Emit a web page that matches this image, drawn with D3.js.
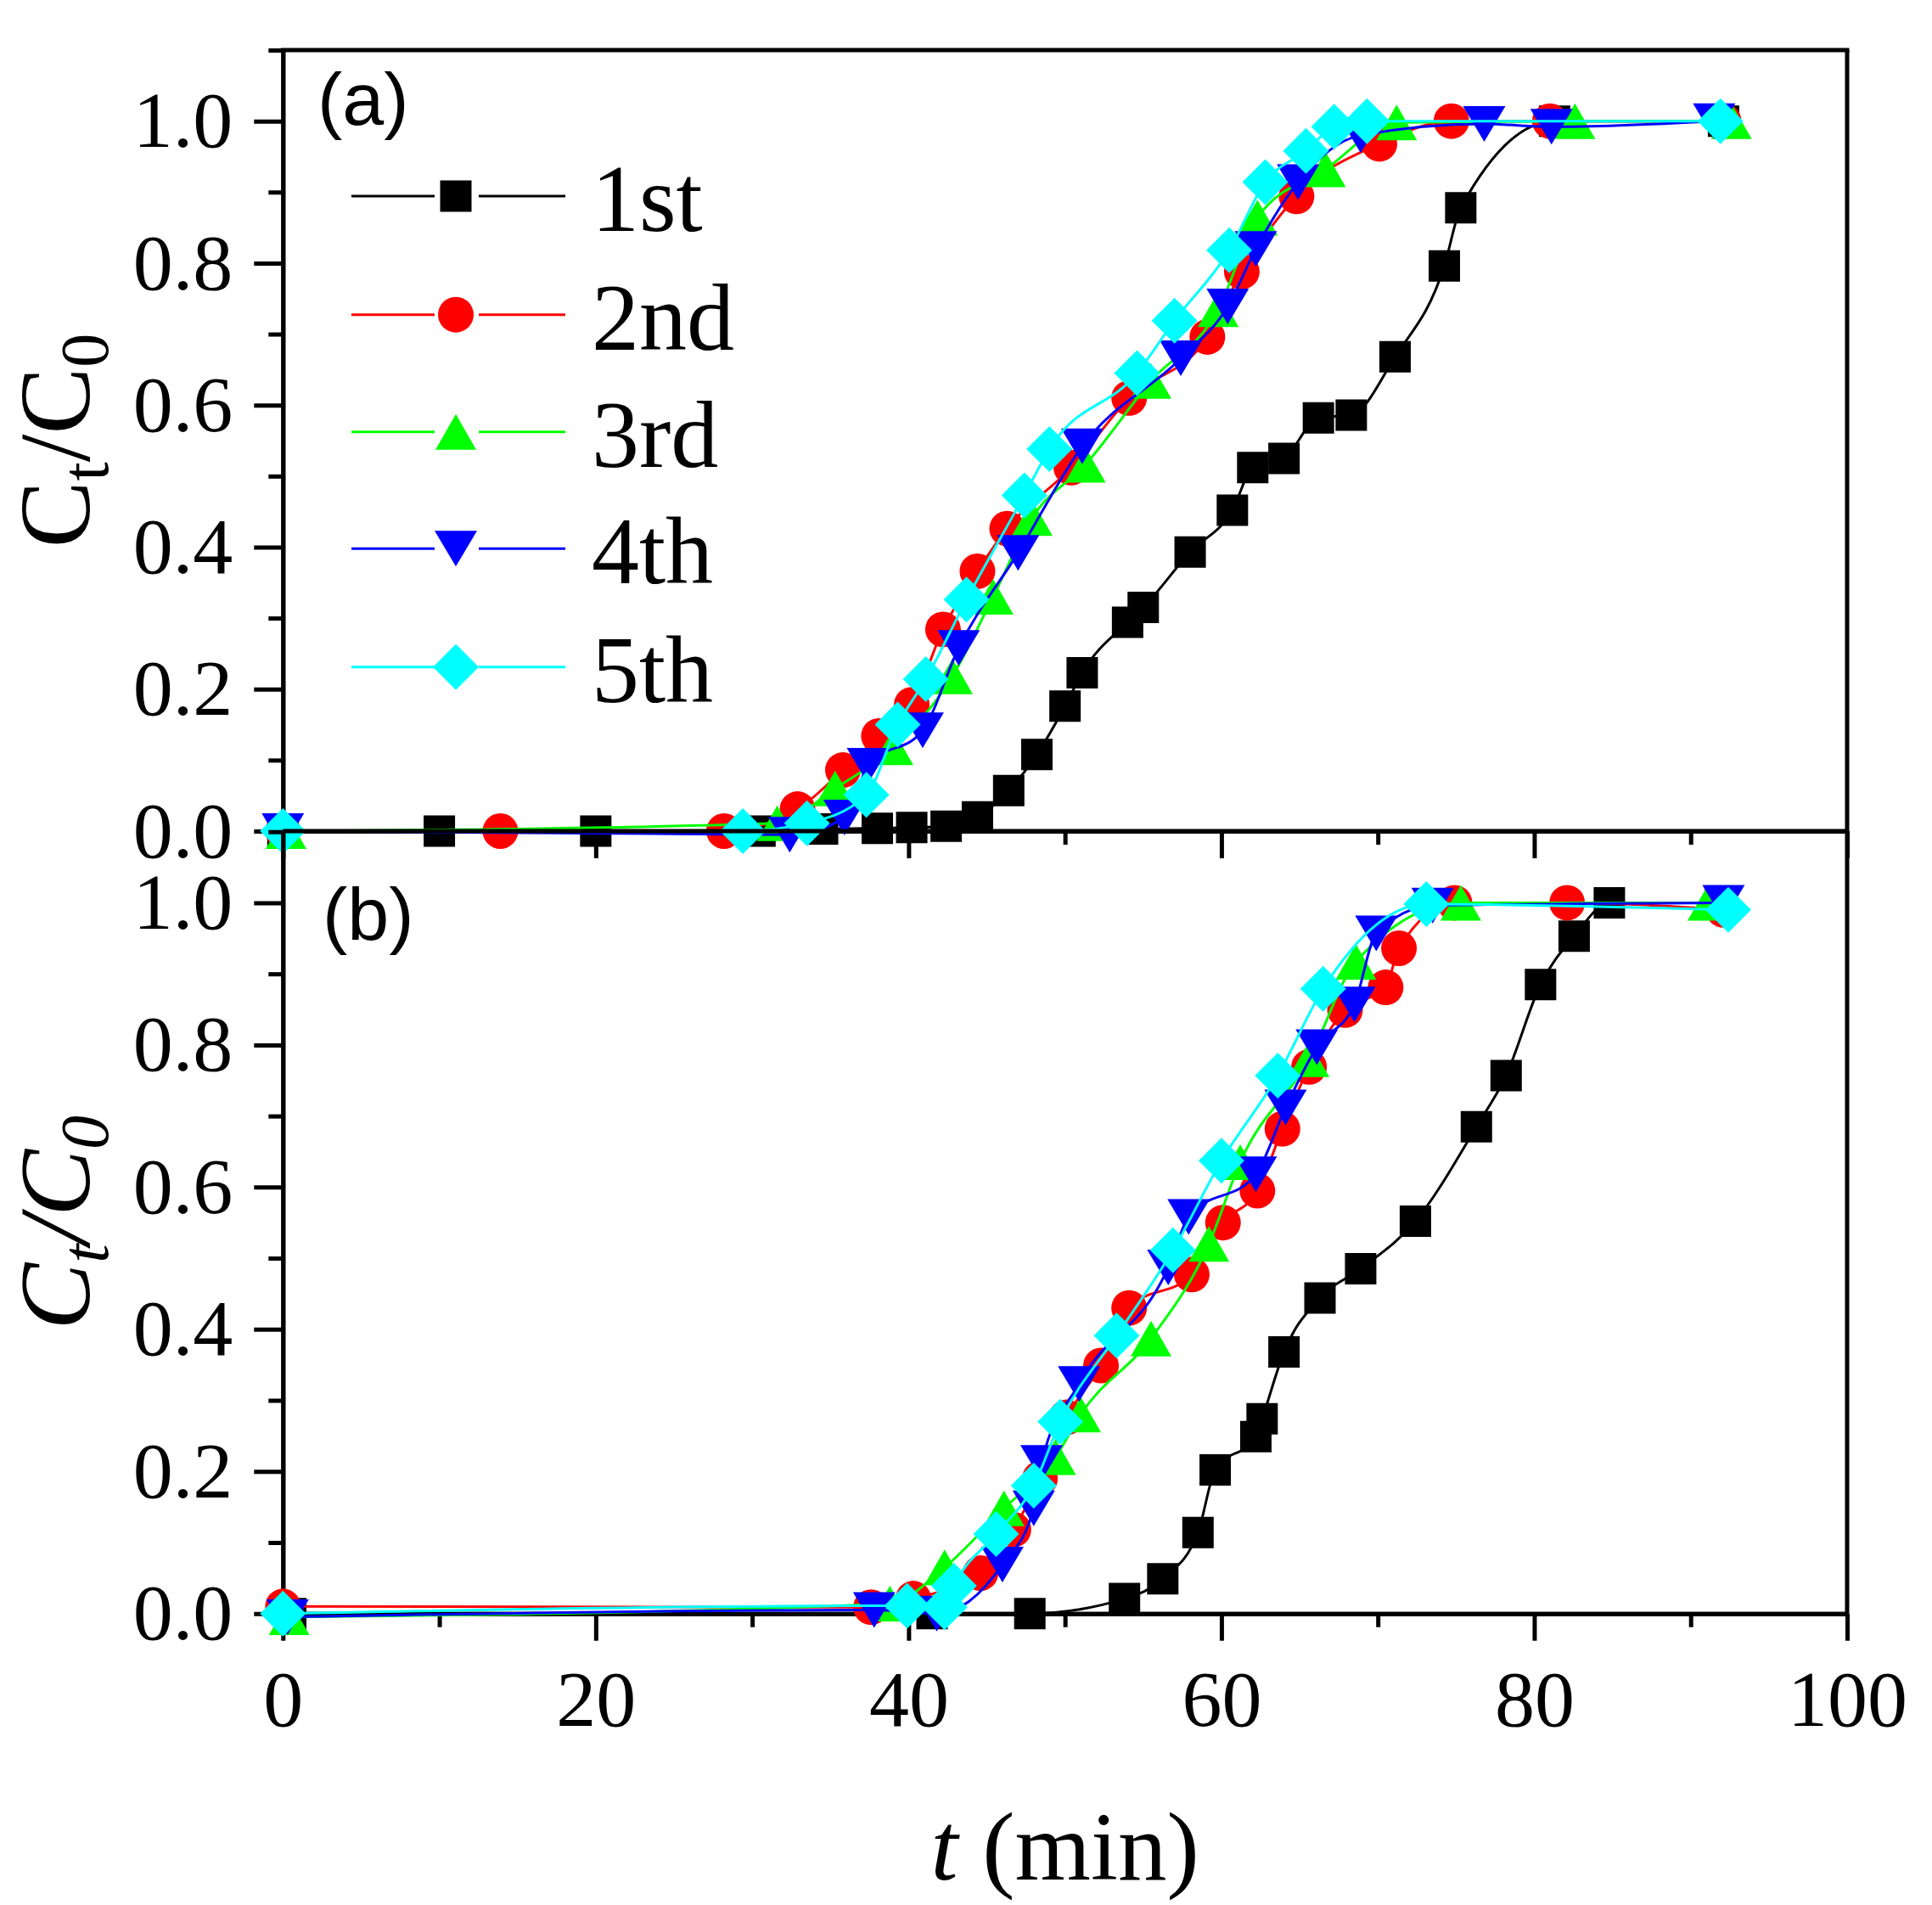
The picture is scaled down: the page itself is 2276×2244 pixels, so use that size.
<!DOCTYPE html>
<html><head><meta charset="utf-8">
<script src="https://cdn.jsdelivr.net/npm/d3@7"></script>
<style>
html,body{margin:0;padding:0;background:#fff;}
svg{display:block;}
.serif{font-family:"Times New Roman","Liberation Serif",Times,serif;}
.sans{font-family:Arial,"Liberation Sans",Helvetica,sans-serif;}
</style></head>
<body>
<svg id="chart" width="2276" height="2244"></svg>
<script>
// ---------- data ----------
const seriesNames = ["1st","2nd","3rd","4th","5th"];
const seriesColors = ["#000000","#ff0000","#00ff00","#0000ff","#00ffff"];
const seriesSymbols = ["square","circle","triangleUp","triangleDown","diamond"];
const xTicksMajor = [0,20,40,60,80,100];
const xTicksMinor = [10,30,50,70,90];
const yTicksMajor = [0,0.2,0.4,0.6,0.8,1.0];
const yTicksMinor = [0.1,0.3,0.5,0.7,0.9,1.1];

// panel (a)
const tA1 = [0,10,20,30.5,34.5,38.0,40.2,42.4,44.4,46.4,48.2,50.0,51.1,54.0,55.0,58.0,60.7,62.0,64.0,66.2,68.3,71.1,74.25,75.3,81.3,92.1];
const vA1 = [0,0,0,0,0.003,0.004,0.005,0.007,0.02,0.057,0.108,0.176,0.223,0.294,0.315,0.393,0.452,0.512,0.525,0.582,0.586,0.668,0.796,0.878,1.0,1.0];
const tA2 = [0,13.9,28.2,32.9,35.8,38.1,40.2,42.2,44.4,46.3,50.4,54.1,59.1,61.3,64.8,70.1,74.7,81.0,92.1];
const vA2 = [0,0,0,0.031,0.086,0.134,0.178,0.284,0.366,0.426,0.512,0.61,0.696,0.788,0.894,0.968,1.0,1.0,1.0];
const tA3 = [0.2,31.6,35.3,39.0,42.8,45.4,47.9,51.3,55.5,59.8,62.3,66.65,71.2,82.6,92.6];
const vA3 = [0,0.011,0.06,0.118,0.218,0.33,0.441,0.516,0.634,0.735,0.864,0.932,0.998,1.0,1.0];
const tA4 = [0,32.4,35.9,37.4,40.9,43.2,47.0,51.1,57.4,60.4,62.2,64.9,68.9,76.8,81.1,91.5];
const vA4 = [0,-0.005,0.019,0.092,0.142,0.258,0.392,0.542,0.666,0.739,0.82,0.914,0.98,0.996,0.992,1.0];
const tA5 = [0,29.4,33.5,37.3,39.3,41.1,43.7,47.4,49.0,54.6,57.0,60.5,62.8,65.4,67.2,69.3,91.9];
const vA5 = [0,0,0.011,0.051,0.15,0.214,0.326,0.473,0.538,0.645,0.719,0.818,0.914,0.958,0.992,1.0,1.0];

// panel (b)
const tB1 = [0.5,41.5,47.75,53.8,56.25,58.5,59.6,62.2,62.6,64.0,66.3,68.9,72.4,76.3,78.2,80.4,82.55,84.8,91.9];
const vB1 = [0,0,0,0.021,0.049,0.114,0.202,0.249,0.274,0.368,0.444,0.485,0.552,0.685,0.757,0.885,0.953,1.0,1.0];
const tB2 = [0,37.6,40.3,44.6,46.7,48.4,50.1,52.3,54.1,58.1,60.1,62.3,63.9,65.6,67.9,70.5,71.35,74.9,82.1,92.1];
const vB2 = [0.01,0.009,0.021,0.057,0.118,0.19,0.276,0.349,0.43,0.477,0.55,0.595,0.682,0.769,0.849,0.881,0.936,1.0,1.0,0.99];
const tB3 = [0.4,38.8,42.3,46.1,49.4,51.0,55.5,59.2,61.2,65.6,68.6,75.3,91.1];
const vB3 = [-0.005,0.014,0.065,0.148,0.22,0.28,0.387,0.52,0.635,0.78,0.917,1.0,1.0];
const tB4 = [0.3,37.8,41.8,46.0,48.0,48.5,50.9,56.6,57.9,62.2,64.1,66.1,68.5,69.9,73.5,92.1];
const vB4 = [-0.005,0.005,0.0,0.069,0.148,0.212,0.323,0.487,0.558,0.618,0.712,0.797,0.857,0.957,0.996,1.0];
const tB5 = [0,39.9,42.3,42.9,45.6,48.0,49.7,53.3,56.9,60.0,63.6,66.5,73.1,92.4];
const vB5 = [0,0.011,0.009,0.039,0.112,0.18,0.27,0.391,0.511,0.637,0.757,0.879,0.998,0.99];

const panelA = [[tA1,vA1],[tA2,vA2],[tA3,vA3],[tA4,vA4],[tA5,vA5]];
const panelB = [[tB1,vB1],[tB2,vB2],[tB3,vB3],[tB4,vB4],[tB5,vB5]];

// ---------- layout ----------
const svg = d3.select("#chart");
svg.append("rect").attr("width",2276).attr("height",2244).attr("fill","#fff");

const left = 333.3, right = 2176;
const topA = 59, botA = 979, topB = 979.7, botB = 1900.7;
const x = d3.scaleLinear().domain([0,100]).range([left,right]);
const yA = d3.scaleLinear().domain([0,1.1]).range([botA,topA]);
const yB = d3.scaleLinear().domain([0,1.1]).range([botB,topB]);

function symbolPath(type){
  switch(type){
    case "square": { const h=18.5; return `M${-h},${-h}H${h}V${h}H${-h}Z`; }
    case "circle": { const r=21; return `M${r},0A${r},${r} 0 1,1 ${-r},0A${r},${r} 0 1,1 ${r},0Z`; }
    case "triangleUp": { const w=24,h=21; return `M0,${-h}L${w},${h}L${-w},${h}Z`; }
    case "triangleDown": { const w=25,h=21; return `M0,${h}L${w},${-h}L${-w},${-h}Z`; }
    case "diamond": { const d=27; return `M0,${-d}L${d},0L0,${d}L${-d},0Z`; }
  }
}

function styleAxis(g){
  g.attr("font-family",null);
  g.selectAll("path.domain").attr("stroke","#000").attr("stroke-width",5);
  g.selectAll(".tick line").attr("stroke","#000").attr("stroke-width",5);
  g.selectAll(".tick text").attr("class","serif").attr("font-size",94).attr("fill","#000");
}

function drawPanel(y, data, yTop, yBot, showXLabels){
  const gy = svg.append("g").attr("transform",`translate(${left},0)`)
    .call(d3.axisLeft(y).tickValues(yTicksMajor).tickSize(34).tickSizeOuter(0).tickPadding(25).tickFormat(d3.format(".1f")));
  styleAxis(gy);
  const gym = svg.append("g").attr("transform",`translate(${left},0)`)
    .call(d3.axisLeft(y).tickValues(yTicksMinor).tickSize(17).tickSizeOuter(0).tickFormat(""));
  styleAxis(gym);
  const gx = svg.append("g").attr("transform",`translate(0,${yBot})`)
    .call(d3.axisBottom(x).tickValues(xTicksMajor).tickSize(32).tickSizeOuter(0).tickPadding(34).tickFormat(showXLabels? d3.format("d") : ""));
  styleAxis(gx);
  const gxm = svg.append("g").attr("transform",`translate(0,${yBot})`)
    .call(d3.axisBottom(x).tickValues(xTicksMinor).tickSize(16).tickSizeOuter(0).tickFormat(""));
  styleAxis(gxm);

  const line = d3.line().x(d=>x(d[0])).y(d=>y(d[1])).curve(d3.curveMonotoneX);
  data.forEach((s,i)=>{
    const pts = s[0].map((t,j)=>[t,s[1][j]]);
    svg.append("path").datum(pts).attr("d",line)
      .attr("fill","none").attr("stroke",seriesColors[i]).attr("stroke-width",3);
    svg.append("g").selectAll("path").data(pts).join("path")
      .attr("d",symbolPath(seriesSymbols[i]))
      .attr("transform",d=>`translate(${x(d[0])},${y(d[1])})`)
      .attr("fill",seriesColors[i]);
  });
}

drawPanel(yA, panelA, topA, botA, false);
drawPanel(yB, panelB, topB, botB, true);

// frame
svg.append("line").attr("x1",left-2.5).attr("x2",right+2.5).attr("y1",topA).attr("y2",topA).attr("stroke","#000").attr("stroke-width",5);
svg.append("line").attr("x1",right).attr("x2",right).attr("y1",topA).attr("y2",botB).attr("stroke","#000").attr("stroke-width",5);
svg.append("line").attr("x1",left).attr("x2",right).attr("y1",botA).attr("y2",botA).attr("stroke","#000").attr("stroke-width",5);

// panel labels
svg.append("text").attr("class","sans").attr("x",374).attr("y",147).attr("font-size",88).text("(a)");
svg.append("text").attr("class","sans").attr("x",380).attr("y",1107).attr("font-size",88).text("(b)");

// y titles
function yTitle(cy, italic){
  const t = svg.append("text").attr("class","serif")
    .attr("transform",`translate(105,${cy}) rotate(-90)`)
    .attr("text-anchor","middle")
    .attr("font-size",118)
    .attr("font-style", italic ? "italic" : "normal");
  t.append("tspan").text("C");
  t.append("tspan").attr("font-size",80).attr("dy",22).text("t");
  t.append("tspan").attr("dy",-22).text("/C");
  t.append("tspan").attr("font-size",80).attr("dy",22).text("0");
}
yTitle((topA+botA)/2, false);
yTitle((topB+botB)/2, true);

// x title
const xt = svg.append("text").attr("class","serif").attr("x",(left+right)/2).attr("y",2214).attr("text-anchor","middle")
  .attr("font-size",115);
xt.append("tspan").attr("font-style","italic").text("t");
xt.append("tspan").text(" (min)");

// legend
const legRowY = [231, 370.7, 508.8, 646.2, 785.7];
seriesNames.forEach((name,i)=>{
  const cy = legRowY[i];
  const g = svg.append("g");
  g.append("line").attr("x1",414).attr("x2",512).attr("y1",cy).attr("y2",cy).attr("stroke",seriesColors[i]).attr("stroke-width",3);
  g.append("line").attr("x1",564).attr("x2",666).attr("y1",cy).attr("y2",cy).attr("stroke",seriesColors[i]).attr("stroke-width",3);
  g.append("path").attr("d",symbolPath(seriesSymbols[i])).attr("transform",`translate(537,${cy})`).attr("fill",seriesColors[i]);
  g.append("text").attr("class","serif").attr("x",697).attr("y",cy+41).attr("font-size",112).text(name);
});
</script>
</body></html>
